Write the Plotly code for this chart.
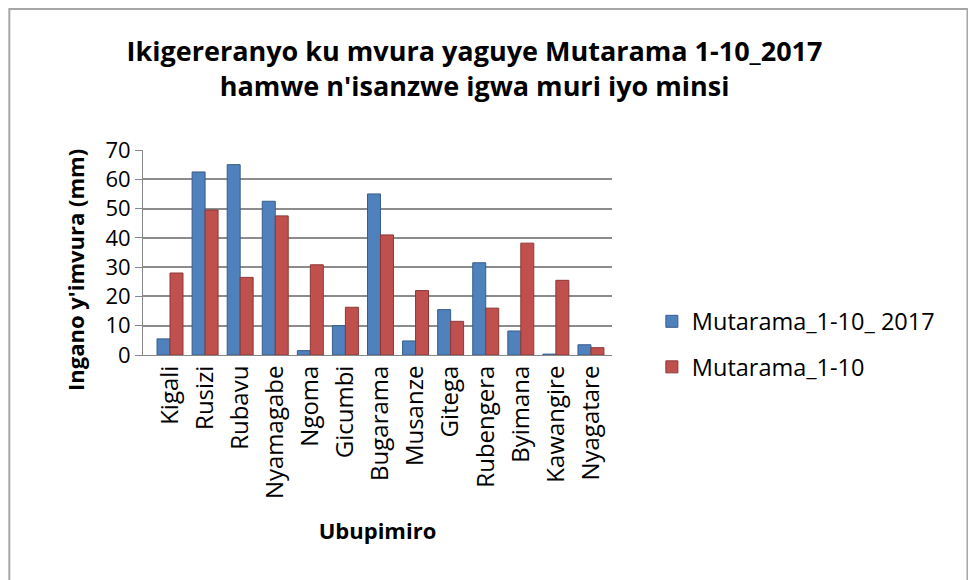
import plotly.graph_objects as go

stations = ["Kigali", "Rusizi", "Rubavu", "Nyamagabe", "Ngoma", "Gicumbi", "Bugarama",
            "Musanze", "Gitega", "Rubengera", "Byimana", "Kawangire", "Nyagatare"]
rain_2017 = [5.5, 62.5, 65, 52.5, 1.5, 10, 55, 4.8, 15.5, 31.5, 8.2, 0.3, 3.5]
rain_normal = [28, 49.5, 26.5, 47.5, 30.8, 16.3, 41, 22, 11.5, 16, 38.2, 25.5, 2.5]
y_ticks = [0, 10, 20, 30, 40, 50, 60, 70]

FONT = "Open Sans"

fig = go.Figure()
fig.add_trace(go.Bar(x=stations, y=rain_2017, name="Mutarama_1-10_ 2017", legendgroup="a",
                     marker=dict(color="#4F81BD", line=dict(color="#385D8A", width=1))))
fig.add_trace(go.Bar(x=stations, y=rain_normal, name="Mutarama_1-10", legendgroup="b",
                     marker=dict(color="#C0504D", line=dict(color="#8C3836", width=1))))

# plot area: 135..604 px horizontally (469 px), 142..347 px vertically
L, R = 135, 372
fig.update_layout(
    width=976, height=580,
    paper_bgcolor="white", plot_bgcolor="white",
    font=dict(family=FONT, color="black"),
    barmode="group", bargap=0.26, bargroupgap=0,
    margin=dict(l=L, r=R, t=142, b=233, autoexpand=False),
    title=dict(text="<b>Ikigereranyo ku mvura yaguye Mutarama 1-10_2017<br>hamwe n'isanzwe igwa muri iyo minsi</b>",
               x=0.478, xanchor="center", y=0.909, yanchor="middle",
               font=dict(size=27, family=FONT)),
    legend=dict(x=1.085, y=0.051, xanchor="left", yanchor="middle",
                font=dict(size=23.5, family=FONT), tracegroupgap=12, traceorder="grouped",
                bgcolor="rgba(0,0,0,0)"),
    xaxis=dict(tickangle=-90, tickfont=dict(size=24), showline=True, linecolor="#888",
               automargin=False, range=[-0.77, 12.6],
               title=dict(text="<b>Ubupimiro</b>", font=dict(size=22), standoff=25),
               ticks="", showgrid=False),
    yaxis=dict(range=[0, 70], tickvals=y_ticks, tickfont=dict(size=22),
               showgrid=True, gridcolor="#8c8c8c", gridwidth=1.5, automargin=False,
               showline=True, linecolor="#888", ticks="outside", ticklen=7, tickcolor="#888"),
    annotations=[dict(text="<b>Ingano y'imvura (mm)</b>", textangle=-90,
                      xref="paper", yref="paper", x=-0.145, y=0.415,
                      xanchor="center", yanchor="middle", showarrow=False,
                      font=dict(size=22, family=FONT))],
    shapes=[dict(type="rect", xref="paper", yref="paper",
                 x0=-0.285, x1=1.758, y0=-1.185, y1=1.688,
                 line=dict(color="#a6a6a6", width=2), fillcolor="rgba(0,0,0,0)", layer="below")],
)

fig.write_html("out.html")
